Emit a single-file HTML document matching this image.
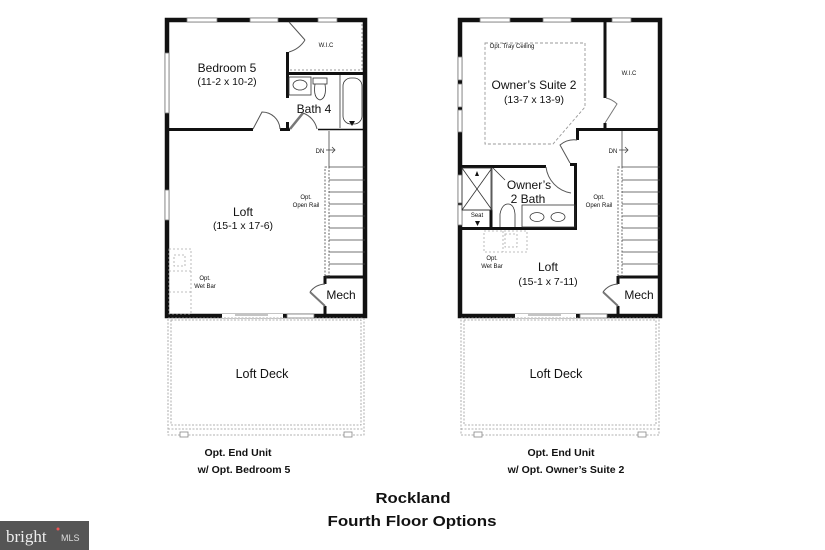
<!DOCTYPE html>
<html><head><meta charset="utf-8"><style>
html,body{margin:0;padding:0;background:#fff;}
svg{display:block;font-family:"Liberation Sans",sans-serif;}
</style></head><body>
<svg width="825" height="550" viewBox="0 0 825 550" xmlns="http://www.w3.org/2000/svg">
<rect width="825" height="550" fill="#fff"/>

<!-- ================= LEFT PLAN ================= -->
<g fill="none" stroke="#111">
  <rect x="167" y="20" width="198" height="296" stroke-width="4.5"/>
</g>
<g fill="#fff" stroke="#777" stroke-width="0.8">
  <rect x="187" y="18" width="30" height="4"/>
  <rect x="250" y="18" width="28" height="4"/>
  <rect x="318" y="18" width="19" height="4"/>
  <rect x="165" y="53" width="4" height="60"/>
  <rect x="165" y="190" width="4" height="30"/>
  <rect x="222" y="314" width="61" height="4" stroke="none"/>
  <rect x="287" y="314" width="27" height="4"/>
</g>
<line x1="235" y1="315" x2="268" y2="315" stroke="#888" stroke-width="1"/>
<g stroke="#111" stroke-width="3" fill="none">
  <line x1="167" y1="129.5" x2="253" y2="129.5"/>
  <line x1="280" y1="129.5" x2="290" y2="129.5"/>
  <line x1="318" y1="129.5" x2="365" y2="129.5" stroke-width="1.5"/>
  <line x1="287.5" y1="20" x2="287.5" y2="22"/>
  <line x1="287.5" y1="52" x2="287.5" y2="98"/>
  <line x1="287.5" y1="122" x2="287.5" y2="130"/>
  <line x1="287" y1="73.5" x2="365" y2="73.5"/>
  <line x1="325" y1="277" x2="365" y2="277"/>
  <line x1="325" y1="276" x2="325" y2="284"/>
  <line x1="325" y1="306" x2="325" y2="316"/>
</g>
<g stroke="#555" stroke-width="1" fill="none">
  <line x1="289" y1="22" x2="305" y2="40"/>
  <path d="M305 40 A28 28 0 0 1 289 52"/>
  <path d="M253 129 L262 112 A18 18 0 0 1 280 129"/>
  <line x1="290" y1="129" x2="303" y2="113" stroke-width="2.5" stroke="#777"/>
  <path d="M303 113 A22 22 0 0 1 317 129"/>
  <line x1="325" y1="306" x2="310" y2="292" stroke-width="2" stroke="#777"/>
  <path d="M310 292 A20 20 0 0 1 325 284"/>
</g>
<path d="M290 70 H362 V24" fill="none" stroke="#999" stroke-width="1" stroke-dasharray="2,2"/>
<g stroke="#333" stroke-width="0.8" fill="none">
  <line x1="340" y1="75" x2="340" y2="128"/>
  <rect x="343" y="78" width="19" height="46" rx="8"/>
  <ellipse cx="300" cy="85" rx="7" ry="5"/>
  <rect x="289" y="77" width="22" height="18"/>
  <rect x="313" y="78" width="14" height="6"/>
  <path d="M315 84 Q313 98 320 100 Q327 98 325 84"/>
</g>
<path d="M349 121 L355 121 L352 126 Z" fill="#111"/>
<g stroke="#444" stroke-width="0.8" fill="none">
  <line x1="329" y1="131" x2="329" y2="167"/>
  <rect x="325" y="167" width="4" height="110" stroke-dasharray="2,1.5"/>
  <line x1="329" y1="167" x2="365" y2="167"/>
  <line x1="329" y1="180" x2="365" y2="180"/><line x1="329" y1="192" x2="365" y2="192"/>
  <line x1="329" y1="204" x2="365" y2="204"/><line x1="329" y1="216" x2="365" y2="216"/>
  <line x1="329" y1="228" x2="365" y2="228"/><line x1="329" y1="240" x2="365" y2="240"/>
  <line x1="329" y1="252" x2="365" y2="252"/><line x1="329" y1="264" x2="365" y2="264"/>
  <line x1="326" y1="150" x2="335" y2="150"/><path d="M332 147 L335 150 L332 153"/>
</g>
<g stroke="#aaa" stroke-width="0.8" fill="none" stroke-dasharray="2,2">
  <rect x="169" y="249" width="22" height="65"/>
  <rect x="174" y="255" width="11" height="11"/>
  <line x1="169" y1="271" x2="191" y2="271"/><line x1="169" y1="292" x2="191" y2="292"/>
</g>

<!-- ================= RIGHT PLAN ================= -->
<rect x="460" y="20" width="200" height="296" fill="none" stroke="#111" stroke-width="4.5"/>
<g fill="#fff" stroke="#777" stroke-width="0.8">
  <rect x="480" y="18" width="30" height="4"/>
  <rect x="543" y="18" width="28" height="4"/>
  <rect x="612" y="18" width="19" height="4"/>
  <rect x="458" y="57" width="4" height="23"/>
  <rect x="458" y="84" width="4" height="23"/>
  <rect x="458" y="110" width="4" height="22"/>
  <rect x="458" y="175" width="4" height="28"/>
  <rect x="458" y="205" width="4" height="20"/>
  <rect x="515" y="314" width="61" height="4" stroke="none"/>
  <rect x="580" y="314" width="27" height="4"/>
</g>
<line x1="528" y1="315" x2="561" y2="315" stroke="#888" stroke-width="1"/>
<g stroke="#111" stroke-width="3" fill="none">
  <line x1="605" y1="20" x2="605" y2="98"/>
  <line x1="605" y1="123" x2="605" y2="130"/>
  <line x1="576" y1="129.5" x2="660" y2="129.5"/>
  <line x1="577.5" y1="128" x2="577.5" y2="140"/>
  <line x1="460" y1="166.5" x2="546" y2="166.5"/>
  <line x1="575.5" y1="163" x2="575.5" y2="229"/>
  <line x1="570" y1="164.5" x2="577" y2="164.5"/>
  <line x1="460" y1="228.5" x2="577" y2="228.5"/>
  <line x1="491" y1="210" x2="491" y2="228"/>
  <line x1="618" y1="277" x2="660" y2="277"/>
  <line x1="618" y1="276" x2="618" y2="284"/>
  <line x1="618" y1="306" x2="618" y2="316"/>
</g>
<path d="M485 43 H585 V107 L553 144 H485 Z" fill="none" stroke="#999" stroke-width="0.9" stroke-dasharray="3,2"/>
<g stroke="#555" stroke-width="1" fill="none">
  <path d="M605 123 L617 104 A22 22 0 0 0 606 98" stroke="#777"/>
  <path d="M577 140 A22 22 0 0 0 560 145 L570 163" />
  <path d="M546 167 A30 30 0 0 0 571 193"/>
  <line x1="618" y1="306" x2="603" y2="292" stroke-width="2" stroke="#777"/>
  <path d="M603 292 A20 20 0 0 1 618 284"/>
</g>
<g stroke="#333" stroke-width="0.8" fill="none">
  <rect x="462" y="168" width="30" height="42"/>
  <line x1="462" y1="168" x2="492" y2="210"/><line x1="492" y1="168" x2="462" y2="210"/>
  <line x1="462" y1="210" x2="491" y2="210"/>
  <line x1="491" y1="168" x2="491" y2="210"/>
  <line x1="493" y1="168" x2="505" y2="180"/>
  <rect x="522" y="205" width="53" height="22"/>
  <ellipse cx="537" cy="217" rx="7" ry="4.5"/>
  <ellipse cx="558" cy="217" rx="7" ry="4.5"/>
  <path d="M500 227 V214 Q502 204 508 204 Q514 204 515 214 V227"/>
</g>
<path d="M475 176 L479 176 L477 171 Z" fill="#111"/>
<path d="M475 221 L480 221 L477.5 226 Z" fill="#111"/>
<g stroke="#444" stroke-width="0.8" fill="none">
  <line x1="622" y1="131" x2="622" y2="167"/>
  <rect x="618" y="167" width="4" height="110" stroke-dasharray="2,1.5"/>
  <line x1="622" y1="167" x2="660" y2="167"/>
  <line x1="622" y1="180" x2="660" y2="180"/><line x1="622" y1="192" x2="660" y2="192"/>
  <line x1="622" y1="204" x2="660" y2="204"/><line x1="622" y1="216" x2="660" y2="216"/>
  <line x1="622" y1="228" x2="660" y2="228"/><line x1="622" y1="240" x2="660" y2="240"/>
  <line x1="622" y1="252" x2="660" y2="252"/><line x1="622" y1="264" x2="660" y2="264"/>
  <line x1="619" y1="150" x2="628" y2="150"/><path d="M625 147 L628 150 L625 153"/>
</g>
<g stroke="#aaa" stroke-width="0.8" fill="none" stroke-dasharray="2,2">
  <rect x="484" y="231" width="43" height="21"/>
  <rect x="505" y="234" width="12" height="13"/>
  <line x1="503" y1="231" x2="503" y2="252"/>
</g>

<!-- ================= DECKS ================= -->
<g fill="none" stroke="#999" stroke-width="0.8" stroke-dasharray="2,1.5">
  <rect x="168" y="318" width="196" height="117"/>
  <rect x="171" y="320" width="190" height="105"/>
  <line x1="168" y1="429" x2="364" y2="429"/>
  <rect x="461" y="318" width="198" height="117"/>
  <rect x="464" y="320" width="192" height="105"/>
  <line x1="461" y1="429" x2="659" y2="429"/>
</g>
<g fill="#fff" stroke="#888" stroke-width="0.8">
  <rect x="180" y="432" width="8" height="5"/><rect x="344" y="432" width="8" height="5"/>
  <rect x="474" y="432" width="8" height="5"/><rect x="638" y="432" width="8" height="5"/>
</g>

<!-- ================= TEXT ================= -->
<g fill="#111" text-anchor="middle">
  <text x="227" y="72" font-size="12">Bedroom 5</text>
  <text x="227" y="85" font-size="10.5">(11-2 x 10-2)</text>
  <text x="314" y="113" font-size="12">Bath 4</text>
  <text x="326" y="47" font-size="6">W.I.C</text>
  <text x="243" y="216" font-size="12">Loft</text>
  <text x="243" y="229" font-size="10.5">(15-1 x 17-6)</text>
  <text x="341" y="299" font-size="12">Mech</text>
  <text x="320" y="153" font-size="6">DN</text>
  <text x="306" y="199" font-size="6">Opt.</text>
  <text x="306" y="207" font-size="6">Open Rail</text>
  <text x="205" y="280" font-size="6">Opt.</text>
  <text x="205" y="288" font-size="6">Wet Bar</text>
  <text x="262" y="378" font-size="12.5">Loft Deck</text>

  <text x="512" y="48" font-size="6">Opt. Tray Ceiling</text>
  <text x="534" y="89" font-size="12">Owner’s Suite 2</text>
  <text x="534" y="103" font-size="10.5">(13-7 x 13-9)</text>
  <text x="629" y="75" font-size="6">W.I.C</text>
  <text x="529" y="189" font-size="12">Owner’s</text>
  <text x="528" y="203" font-size="12">2 Bath</text>
  <text x="477" y="217" font-size="6">Seat</text>
  <text x="548" y="271" font-size="12">Loft</text>
  <text x="548" y="285" font-size="10.5">(15-1 x 7-11)</text>
  <text x="639" y="299" font-size="12">Mech</text>
  <text x="613" y="153" font-size="6">DN</text>
  <text x="599" y="199" font-size="6">Opt.</text>
  <text x="599" y="207" font-size="6">Open Rail</text>
  <text x="492" y="260" font-size="6">Opt.</text>
  <text x="492" y="268" font-size="6">Wet Bar</text>
  <text x="556" y="378" font-size="12.5">Loft Deck</text>

  <text x="238" y="456" font-size="10.5" font-weight="bold">Opt. End Unit</text>
  <text x="244" y="473" font-size="10.5" font-weight="bold">w/ Opt. Bedroom 5</text>
  <text x="561" y="456" font-size="10.5" font-weight="bold">Opt. End Unit</text>
  <text x="566" y="473" font-size="10.5" font-weight="bold">w/ Opt. Owner’s Suite 2</text>
  <text x="413" y="503" font-size="15" font-weight="bold" textLength="75" lengthAdjust="spacingAndGlyphs">Rockland</text>
  <text x="412" y="526" font-size="15" font-weight="bold" textLength="169" lengthAdjust="spacingAndGlyphs">Fourth Floor Options</text>
</g>

<rect x="0" y="521" width="89" height="29" fill="#555"/>
<text x="6" y="542" font-family="Liberation Serif,serif" font-size="17" fill="#eee">bright</text>
<text x="61" y="541" font-size="9" fill="#ddd">MLS</text>
<circle cx="58" cy="529" r="1.5" fill="#e55"/>
</svg>
</body></html>
